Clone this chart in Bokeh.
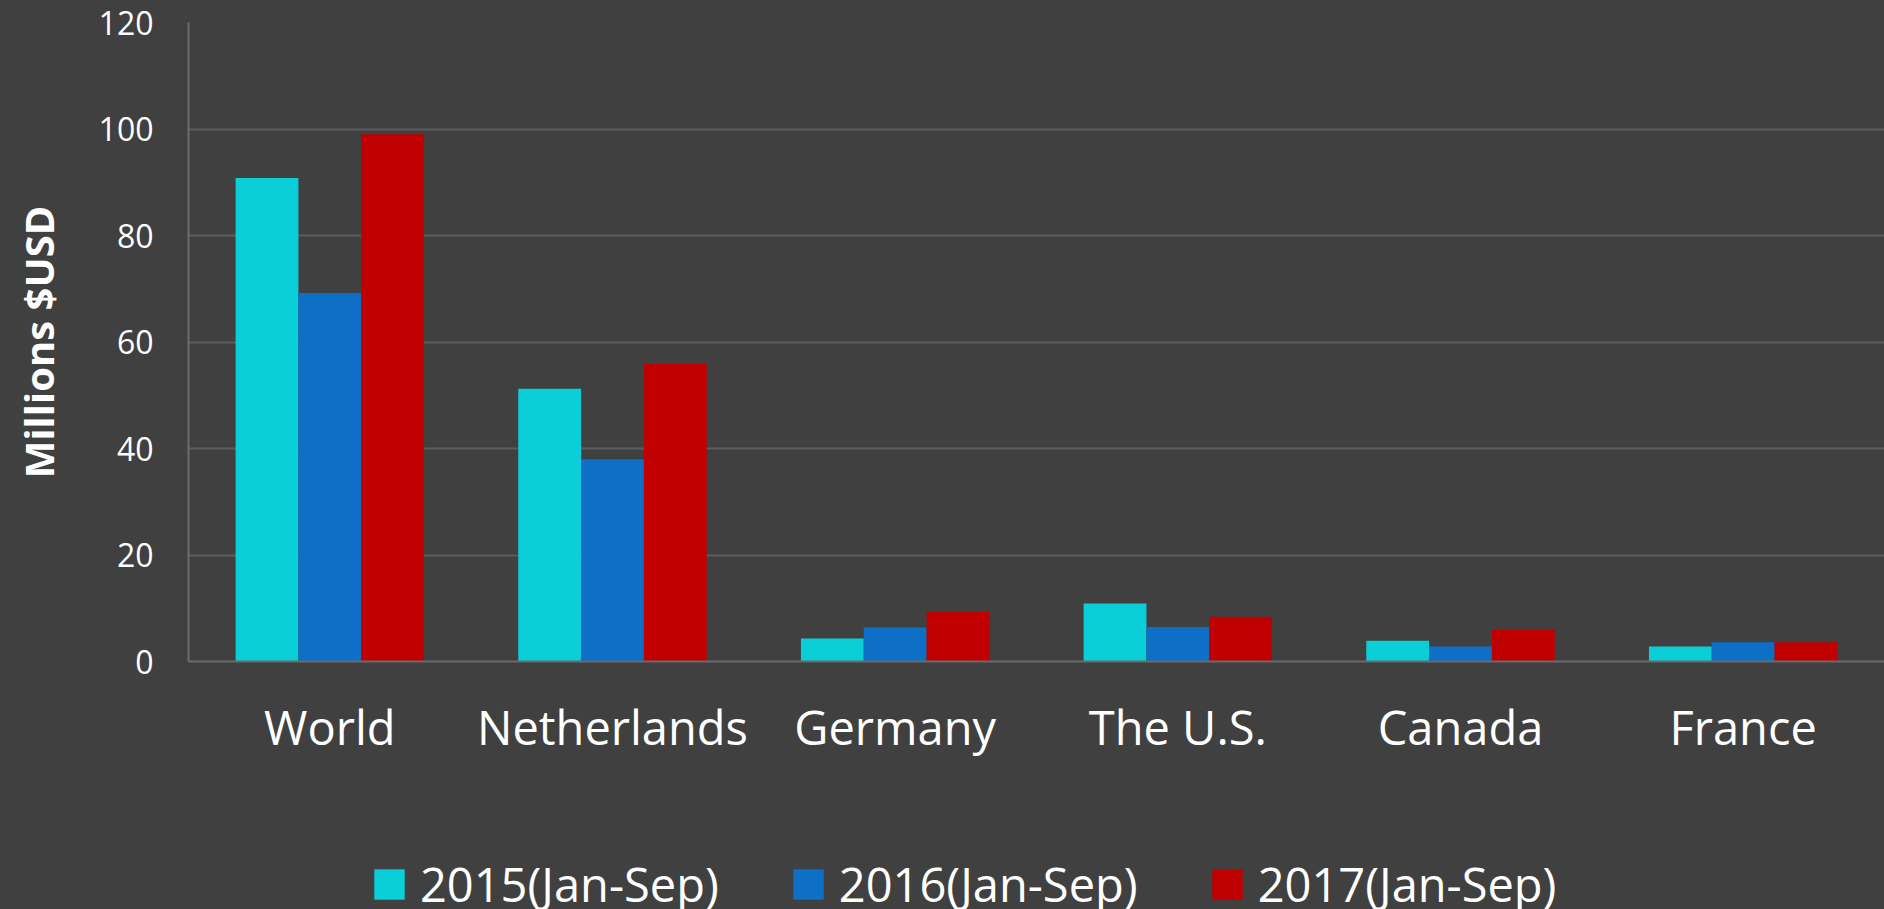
from bokeh.plotting import figure
from bokeh.models import ColumnDataSource, Legend, LegendItem, FactorRange, Range1d
from bokeh.layouts import column
from bokeh.transform import dodge
from bokeh.embed import file_html
from bokeh.resources import INLINE

categories = ["World", "Netherlands", "Germany", "The U.S.", "Canada", "France"]
series_names = ["2015(Jan-Sep)", "2016(Jan-Sep)", "2017(Jan-Sep)"]
v2015 = [90.8, 51.2, 4.3, 10.9, 3.9, 2.8]
v2016 = [69.2, 38.0, 6.4, 6.5, 2.8, 3.6]
v2017 = [99.0, 55.9, 9.4, 8.4, 5.9, 3.6]
y_ticks = [0, 20, 40, 60, 80, 100, 120]
colors = ["#0BCFD8", "#0E6FC6", "#C00000"]

BG = "#404040"
FONT = "Open Sans"
W = 1884
H_MAIN = 780
H_LEG = 129

source = ColumnDataSource(data=dict(cat=categories, s2015=v2015, s2016=v2016, s2017=v2017))

p = figure(width=W, height=H_MAIN, x_range=FactorRange(*categories, range_padding=0),
           y_range=Range1d(0, 120), output_backend="svg", toolbar_location=None,
           min_border_left=188, min_border_right=0, min_border_top=22,
           min_border_bottom=H_MAIN - 661, styles={"background-color": BG})
p.background_fill_color = BG
p.border_fill_color = BG
p.outline_line_color = None

bw = 1.0 / 4.5
for i, (col, c) in enumerate(zip(["s2015", "s2016", "s2017"], colors)):
    p.vbar(x=dodge("cat", (i - 1) * bw, range=p.x_range), top=col, width=bw,
           source=source, fill_color=c, line_color=None)

# axes
p.yaxis.ticker = y_ticks
p.yaxis.axis_label = "Millions $USD"
p.yaxis.axis_label_text_font = FONT
p.yaxis.axis_label_text_font_style = "bold"
p.yaxis.axis_label_text_font_size = "40px"
p.yaxis.axis_label_text_color = "#FFFFFF"
p.yaxis.axis_label_standoff = 30
p.yaxis.major_label_text_font = FONT
p.yaxis.major_label_text_font_size = "32px"
p.yaxis.major_label_text_color = "#FFFFFF"
p.yaxis.major_label_standoff = 29
p.yaxis.major_tick_line_color = None
p.yaxis.minor_tick_line_color = None
p.yaxis.axis_line_color = "#6B6B6B"
p.yaxis.axis_line_width = 2

p.xaxis.major_label_text_font = FONT
p.xaxis.major_label_text_font_size = "47px"
p.xaxis.major_label_text_color = "#FFFFFF"
p.xaxis.major_label_standoff = 27
p.xaxis.major_tick_line_color = None
p.xaxis.minor_tick_line_color = None
p.xaxis.axis_line_color = "#6B6B6B"
p.xaxis.axis_line_width = 2

p.xgrid.grid_line_color = None
p.ygrid.grid_line_color = "#5C5C5C"
p.ygrid.grid_line_width = 2

# legend strip below the chart
lf = figure(width=W, height=H_LEG, output_backend="svg", toolbar_location=None,
            x_range=Range1d(0, 1), y_range=Range1d(0, 1),
            x_axis_location=None, y_axis_location=None,
            min_border_left=188, min_border_right=0, min_border_top=0, min_border_bottom=0,
            styles={"background-color": BG})
lf.background_fill_color = BG
lf.border_fill_color = BG
lf.outline_line_color = None
lf.grid.visible = False
dummies = [lf.vbar(x=[-5], top=[0], bottom=[0], width=0.1, fill_color=c, line_color=None)
           for c in colors]

items = [LegendItem(label=n, renderers=[r]) for n, r in zip(series_names, dummies)]
legend = Legend(items=items, orientation="horizontal", location=(182, -7),
                label_text_font=FONT, label_text_font_size="47px", label_text_color="#FFFFFF",
                glyph_width=38, glyph_height=38, label_standoff=12, spacing=70,
                padding=0, margin=0, background_fill_alpha=0, border_line_color=None)
lf.add_layout(legend)

layout = column(p, lf, spacing=0, styles={"background-color": BG})
open("out.html", "w").write(file_html(layout, INLINE))
